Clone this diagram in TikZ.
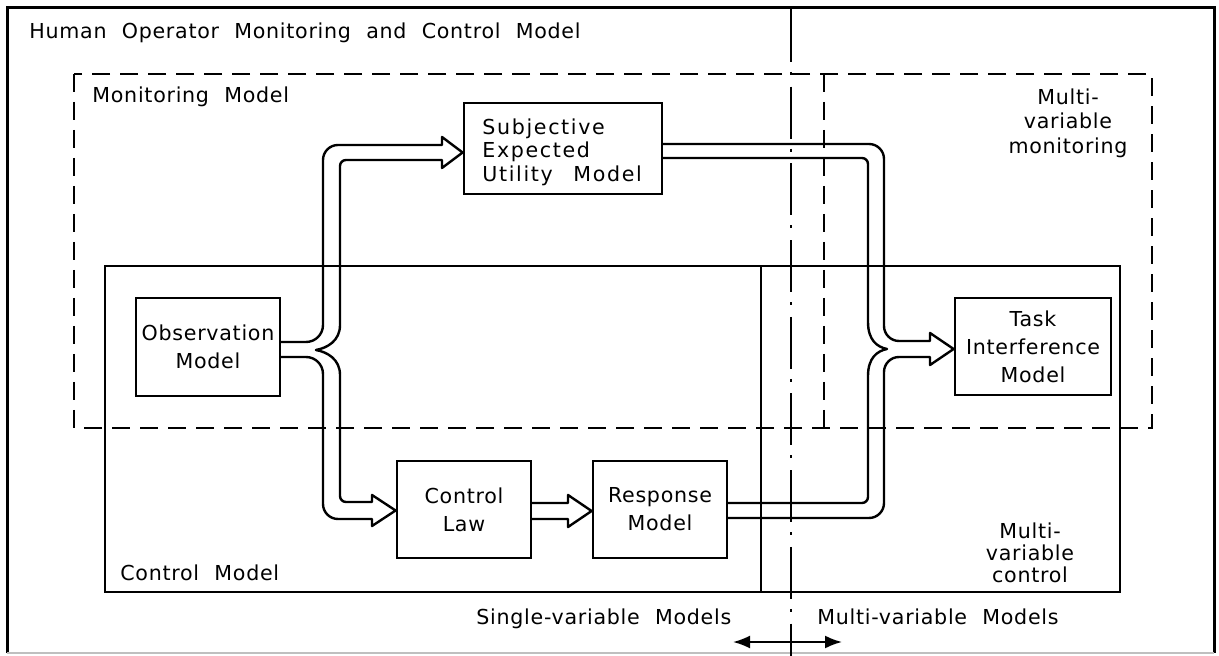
\documentclass[tikz,border=0pt]{standalone}
\usepackage{fontspec}
\setmainfont[LetterSpace=3.5, WordSpace=2.1]{DejaVu Sans}
\newfontfamily\seufont[LetterSpace=8, WordSpace=2.5]{DejaVu Sans}
\usetikzlibrary{arrows.meta}
\tikzset{
 lbl/.style={font=\fontsize{10.3}{13.5}\selectfont, inner sep=0pt},
 blk/.style={draw, line width=1.4pt, font=\fontsize{10.3}{14}\selectfont, align=center, inner sep=0pt},
 pipe/.style={line width=1.2pt, line join=round, line cap=round},
 frame/.style={line width=1.5pt},
 cbox/.style={line width=1.1pt},
 monit/.style={line width=1.2pt, dash pattern=on 9pt off 5pt},
 divider/.style={line width=1.1pt, dash pattern=on 26pt off 5pt on 1.5pt off 5.85pt, dash phase=26pt},
 solidline/.style={line width=1.1pt},
}
\begin{document}
\begin{tikzpicture}[x=0.5pt,y=-0.5pt]
\useasboundingbox (0,0) rectangle (1219,656);
% outer frame
\draw[frame] (7,653) -- (7,8) -- (1214,8) -- (1214,653);
\draw[gray!50, line width=0.6pt] (7,653) -- (1214,653);
% divider between single- and multi-variable
\draw[solidline] (791,8) -- (791,62);
\draw[divider] (791,62) -- (791,628);
\draw[solidline] (791,628) -- (791,656);
% monitoring model (dashed)
\draw[monit] (74,74) rectangle (1152,428);
\draw[monit] (824,74) -- (824,428);
% control model boxes
\draw[cbox] (105,266) rectangle (761,592);
\draw[cbox] (761,266) rectangle (1120,592);
% blocks
\node[blk, minimum width=72pt, minimum height=49pt] (obs) at (208,347) {Observation\\Model};
\node[blk, minimum width=99pt, minimum height=45.5pt] (seu) at (563,148.5) {};
\node[lbl, anchor=west, align=left, font=\seufont\fontsize{10.3}{11.8}\selectfont] (seut) at (482,152) {Subjective\\Expected\\Utility Model};
\node[blk, minimum width=78pt, minimum height=48.5pt] (task) at (1033,346.5) {Task\\Interference\\Model};
\node[blk, minimum width=67pt, minimum height=48.5pt] (cl) at (464,509.5) {Control\\Law};
\node[blk, minimum width=67pt, minimum height=48.5pt] (resp) at (660,509.5) {Response\\Model};
% labels
\node[lbl, anchor=base west] (title) at (29,39) {Human Operator Monitoring and Control Model};
\node[lbl, anchor=base west] (monl) at (92,103) {Monitoring Model};
\node[lbl, anchor=base west] (ctll) at (120,581) {Control Model};
\node[lbl, align=center, font=\fontsize{10.3}{12.2}\selectfont] (mvm) at (1068,123) {Multi-\\variable\\monitoring};
\node[lbl, align=center, font=\fontsize{10.3}{11}\selectfont] (mvc) at (1030,553) {Multi-\\variable\\control};
\node[lbl, anchor=base west] (svm) at (476,624) {Single-variable Models};
\node[lbl, anchor=base west] (mvms) at (817,624) {Multi-variable Models};
% double arrow
\coordinate (al) at (733,642);
\coordinate (ar) at (842,642);
\draw[line width=1pt, {Latex[length=8.5pt,width=6.5pt]}-{Latex[length=8.5pt,width=6.5pt]}] (al) -- (ar);
% pipe: observation -> subjective expected utility
\draw[pipe] (obs.east |- 0,342) -- (306,342) .. controls (315.4,342) and (323,334.4) .. (323,325) -- (323,160) .. controls (323,151.7) and (329.7,145) .. (338,145) -- (442,145) -- (442,137) -- (seu.west |- 0,152.5) -- (442,168) -- (442,160) -- (346,160) .. controls (342.7,160) and (340,162.7) .. (340,166) -- (340,325) .. controls (340,341) and (327,348) .. (316,350);
% pipe: observation -> control law
\draw[pipe] (316,350) .. controls (327,352) and (340,359) .. (340,375) -- (340,496) .. controls (340,499.3) and (342.7,502) .. (346,502) -- (372,502) -- (372,495) -- (cl.west |- 0,510.5) -- (372,526) -- (372,519) -- (338,519) .. controls (329.7,519) and (323,512.3) .. (323,504) -- (323,374) .. controls (323,364.6) and (315.4,357) .. (306,357) -- (obs.east |- 0,357);
% pipe: control law -> response model
\draw[pipe] (cl.east |- 0,503) -- (568,503) -- (568,495) -- (resp.west |- 0,511) -- (568,527) -- (568,519) -- (cl.east |- 0,519);
% pipes: SEU and response -> task interference (outer line)
\draw[pipe] (seu.east |- 0,144) -- (869,144) .. controls (877.3,144) and (884,150.7) .. (884,159) -- (884,326) .. controls (884,334.3) and (890.7,341) .. (899,341) -- (930,341) -- (930,333) -- (task.west |- 0,349) -- (930,365) -- (930,357) -- (899,357) .. controls (890.7,357) and (884,363.7) .. (884,372) -- (884,503) .. controls (884,511.3) and (877.3,518) .. (869,518) -- (resp.east |- 0,518);
% inner line with brace
\draw[pipe] (seu.east |- 0,158) -- (862,158) .. controls (865.3,158) and (868,160.7) .. (868,164) -- (868,322) .. controls (868,340) and (877,347) .. (887,349) .. controls (877,351) and (868,358) .. (868,376) -- (868,497) .. controls (868,500.3) and (865.3,503) .. (862,503) -- (resp.east |- 0,503);
\end{tikzpicture}
\end{document}
